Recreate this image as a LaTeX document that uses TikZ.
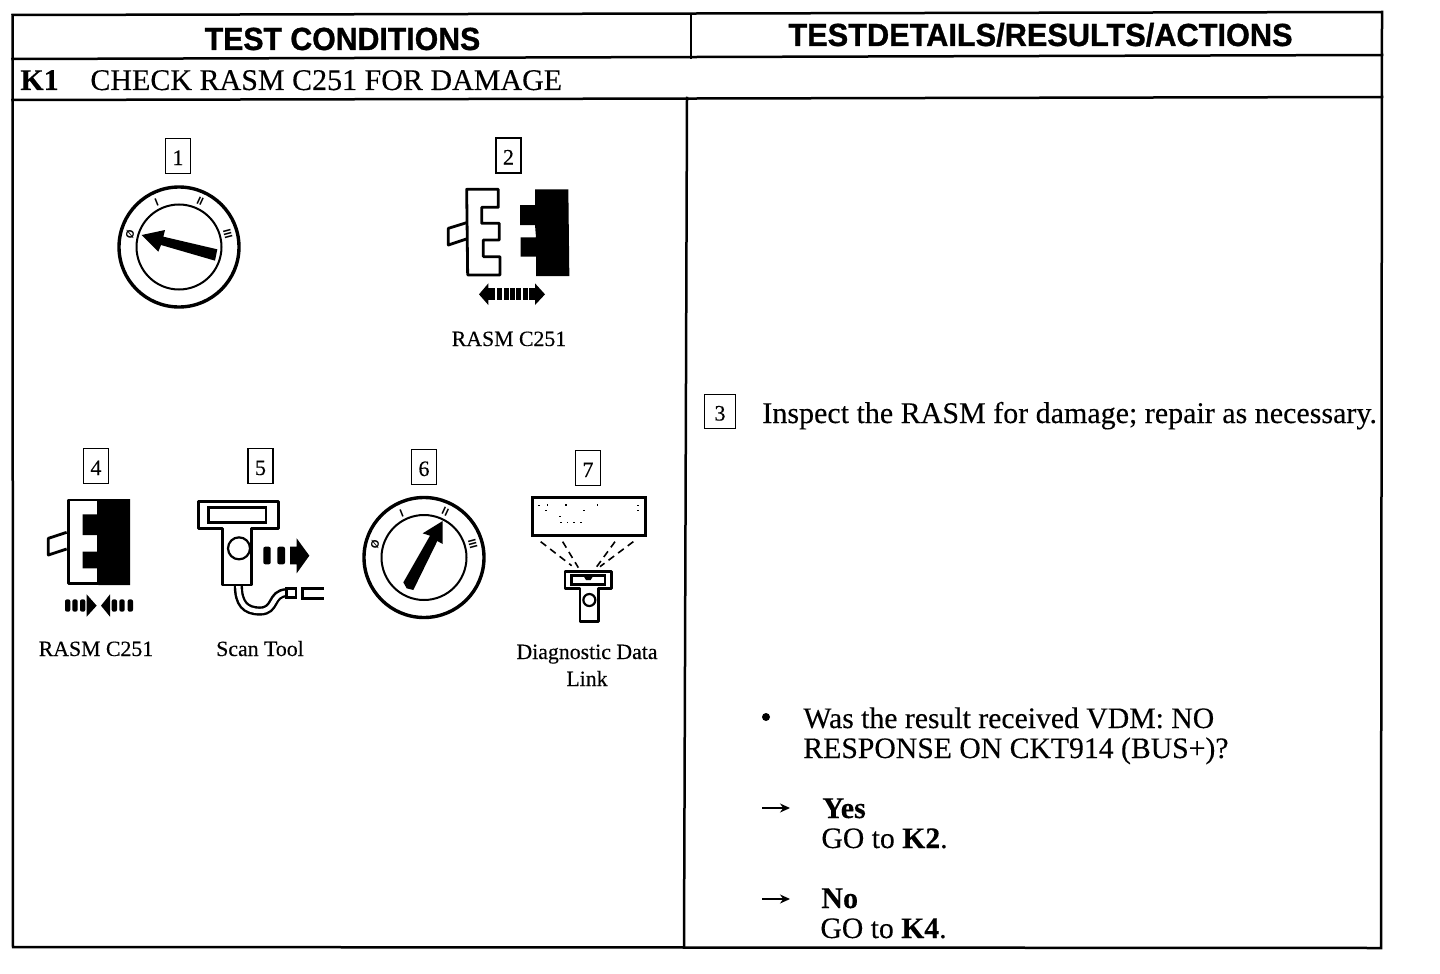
\documentclass[tikz,border=0pt]{standalone}
\usepackage{fontspec}
\setmainfont[FakeBold=0.25]{Liberation Serif}
\newfontfamily\headfa[FakeStretch=0.945,FakeBold=1]{Liberation Sans}
\newfontfamily\headfb[FakeStretch=0.96,FakeBold=1]{Liberation Sans}
\newfontfamily\dialf{Liberation Sans}
\usetikzlibrary{arrows.meta}
\tikzset{
  frameline/.style={line width=1.25pt,line join=miter,line cap=rect},
  numbox/.style={draw,line width=0.9pt,minimum width=12.5pt,minimum height=17.5pt,inner sep=0pt,text height=9pt,text depth=0pt,font=\fontsize{11}{13}\selectfont},
  head/.style={anchor=base,inner sep=0pt,font=\bfseries\fontsize{16}{18}\selectfont},
  body/.style={anchor=base west,inner sep=0pt,font=\fontsize{15}{17}\selectfont},
  bodytight/.style={anchor=base west,inner sep=0pt,font=\fontsize{14.85}{17}\selectfont},
  bodybold/.style={body,font=\bfseries\fontsize{15}{17}\selectfont},
  caption/.style={anchor=base,inner sep=0pt,font=\fontsize{10.9}{13}\selectfont},
  part/.style={line width=1.4pt,fill=white,line join=round},
  dialtext/.style={inner sep=0pt,font=\dialf\bfseries\fontsize{5.5}{6}\selectfont},
  zoomthree/.style={x=0.16667pt,y=-0.16667pt},
  beam/.style={line width=0.8pt,dash pattern=on 3.5pt off 2.5pt},
  leadarrow/.style={line width=0.7pt,-{Stealth[length=5pt,width=4.5pt]}}
}
\newcommand{\ignitiondial}[1]{%
  \begin{scope}[shift={#1}]
    \draw[line width=1.7pt] (0,0) circle[radius=60];
    \draw[line width=1pt] (0,0) circle[radius=42.5];
    \node[dialtext,rotate=75] at (-165:50.5) {Ø};
    \node[dialtext,rotate=22] at (-117:49.5) {I};
    \node[dialtext,rotate=-25] at (-65:50.5) {II};
    \node[dialtext,rotate=-75] at (-15:50.5) {III};
  \end{scope}}
\begin{document}
\begin{tikzpicture}[x=0.5pt,y=-0.5pt]
\useasboundingbox[fill=white] (0,0) rectangle (1440,974);
% frame
\coordinate (tl) at (12.5,15);
\coordinate (tr) at (1382,12);
\coordinate (br) at (1381,948);
\coordinate (bl) at (13,947);
\coordinate (rowAl) at (12.5,59);
\coordinate (rowAr) at (1382,55);
\coordinate (rowBl) at (12.5,100);
\coordinate (rowBr) at (1382,97);
\coordinate (colAt) at (691,14);
\coordinate (colAb) at (691,58);
\coordinate (colBt) at (687,98);
\coordinate (colBb) at (684,947);
\draw[frameline] (tl) -- (tr) -- (br) -- (bl) -- cycle;
\draw[frameline] (rowAl) -- (rowAr);
\draw[frameline] (rowBl) -- (rowBr);
\draw[frameline] (colAt) -- (colAb);
\draw[frameline] (colBt) -- (colBb);
% header
\node[head,font=\headfa\bfseries\fontsize{16}{18}\selectfont] (h1) at (342.5,50) {TEST CONDITIONS};
\node[head,font=\headfb\bfseries\fontsize{16}{18}\selectfont] (h2) at (1040.5,46) {TESTDETAILS/RESULTS/ACTIONS};
\node[bodybold] (k1) at (20,90) {K1};
\node[body] (k1t) at (90,90) {CHECK RASM C251 FOR DAMAGE};
% number boxes
\node[numbox] (n1) at (178,156) {1};
\node[numbox] (n2) at (508.5,155.5) {2};
\node[numbox,minimum width=15.5pt,minimum height=17pt] (n3) at (720,411.5) {3};
\node[numbox] (n4) at (96,466) {4};
\node[numbox] (n5) at (260.5,466) {5};
\node[numbox] (n6) at (424,467) {6};
\node[numbox] (n7) at (588,468) {7};
% dial 1
\ignitiondial{(179,247)}
\begin{scope}[shift={(100,130)},zoomthree]
  \fill[black] (125,315) -- (195,300) -- (190,320) -- (352,358) -- (345,392) -- (183,345) -- (175,365) -- cycle;
\end{scope}
% connector 2
\begin{scope}[shift={(430,130)},zoomthree]
  \draw[part] (110,278) -- (55,295) -- (55,345) -- (115,325);
  \draw[part] (110,178) -- (205,178) -- (205,232) -- (155,232) -- (155,280) -- (208,280) -- (208,330) -- (160,330) -- (160,380) -- (210,380) -- (210,435) -- (113,435) -- cycle;
  \fill[black] (315,178) -- (415,178) -- (418,438) -- (318,438) -- (318,380) -- (272,380) -- (272,322) -- (318,322) -- (315,285) -- (270,285) -- (270,225) -- (315,225) -- cycle;
  \fill[black] (147,493) -- (175,460) -- (175,525) -- cycle;
  \fill[black] (175,475) rectangle (196,510);
  \foreach \xa in {202,221,240,259,278} \fill[black] (\xa,475) rectangle ++(15,35);
  \fill[black] (345,493) -- (315,460) -- (315,525) -- cycle;
  \fill[black] (298,475) rectangle (316,510);
\end{scope}
\node[caption] (c2) at (509,346) {RASM C251};
% connector 4
\begin{scope}[shift={(30,445)},zoomthree]
  \draw[part] (110,262) -- (55,280) -- (55,330) -- (110,312);
  \draw[part] (115,165) -- (205,165) -- (205,415) -- (115,415) -- cycle;
  \fill[black] (205,162) -- (300,162) -- (300,420) -- (205,420) -- (205,370) -- (158,370) -- (158,320) -- (205,320) -- (205,270) -- (158,270) -- (158,208) -- (205,208) -- cycle;
  \foreach \xa in {105,127,150} \fill[black,rounded corners=1pt] (\xa,463) rectangle ++(16,37);
  \fill[black] (170,448) -- (200,482) -- (170,515) -- cycle;
  \fill[black] (213,482) -- (240,448) -- (240,515) -- cycle;
  \foreach \xa in {245,268,293} \fill[black,rounded corners=1pt] (\xa,463) rectangle ++(16,37);
\end{scope}
\node[caption] (c4) at (96,656) {RASM C251};
% scan tool 5
\begin{scope}[shift={(30,445)},zoomthree]
  \draw[line width=4.6pt,black] (625,420) .. controls (625,475) and (645,498) .. (690,498) .. controls (740,498) and (720,445) .. (770,443);
  \draw[line width=2.2pt,white] (625,418) .. controls (625,475) and (645,498) .. (690,498) .. controls (740,498) and (720,445) .. (772,443);
  \draw[part] (505,170) -- (745,170) -- (745,250) -- (665,250) -- (665,420) -- (578,420) -- (578,250) -- (505,250) -- cycle;
  \draw[line width=1.4pt] (535,188) rectangle (708,232);
  \draw[line width=1.1pt] (627,310) circle[radius=33];
  \draw[line width=1.3pt,fill=white] (770,430) rectangle (798,458);
  \draw[line width=1.3pt] (882,430) -- (817,430) -- (817,460) -- (882,460);
  \fill[black,rounded corners=1pt] (700,305) rectangle (722,358);
  \fill[black,rounded corners=1pt] (742,305) rectangle (765,358);
  \fill[black] (780,305) -- (800,305) -- (800,280) -- (838,332) -- (800,385) -- (800,358) -- (780,358) -- cycle;
\end{scope}
\node[caption] (c5) at (260,656) {Scan Tool};
% dial 6
\ignitiondial{(424,557.5)}
\begin{scope}[shift={(350,445)},zoomthree]
  \fill[black] (278,228) -- (218,265) -- (240,272) -- (160,412) -- (170,430) -- (190,435) -- (262,288) -- (278,297) -- cycle;
\end{scope}
% diagnostic link 7
\begin{scope}[shift={(350,445)},zoomthree]
  \draw[line width=1.5pt] (547,157) rectangle (885,270);
  \foreach \xa/\ya in {565/180,590/178,645/178,700/195,740/178,862/180,862/195,628/212,630/230,650/230,670/230,690/230,585/195}
    \fill[black] (\xa,\ya) rectangle ++(5,4);
  \draw[beam] (572,290) -- (665,362);
  \draw[beam] (638,290) -- (685,368);
  \draw[beam] (795,290) -- (738,368);
  \draw[beam] (850,290) -- (750,365);
  \draw[part] (645,380) -- (785,380) -- (785,430) -- (745,430) -- (745,530) -- (690,530) -- (690,430) -- (645,430) -- cycle;
  \draw[line width=1.4pt] (665,392) rectangle (765,418);
  \fill[black] (700,392) -- (730,392) -- (722,405) -- (708,405) -- cycle;
  \draw[line width=1.1pt] (718,465) circle[radius=18];
\end{scope}
\node[caption] (c7a) at (587,659) {Diagnostic Data};
\node[caption] (c7b) at (587,686) {Link};
% right column
\node[body] (t3) at (762,423) {Inspect the RASM for damage; repair as necessary.};
\fill[black] (766,717) circle[radius=4];
\node[bodytight] (q1) at (803,728) {Was the result received VDM: NO};
\node[bodytight] (q2) at (803,758) {RESPONSE ON CKT914 (BUS+)?};
\coordinate (ya) at (762,808);
\coordinate (yb) at (790,808);
\coordinate (na) at (762,899);
\coordinate (nb) at (790,899);
\draw[leadarrow] (ya) -- (yb);
\node[bodybold] (yes) at (822,818) {Yes};
\node[bodytight] (go2) at (821,848) {GO to \textbf{K2}.};
\draw[leadarrow] (na) -- (nb);
\node[bodybold] (no) at (821,908) {No};
\node[bodytight] (go4) at (820,938) {GO to \textbf{K4}.};
\end{tikzpicture}
\end{document}
